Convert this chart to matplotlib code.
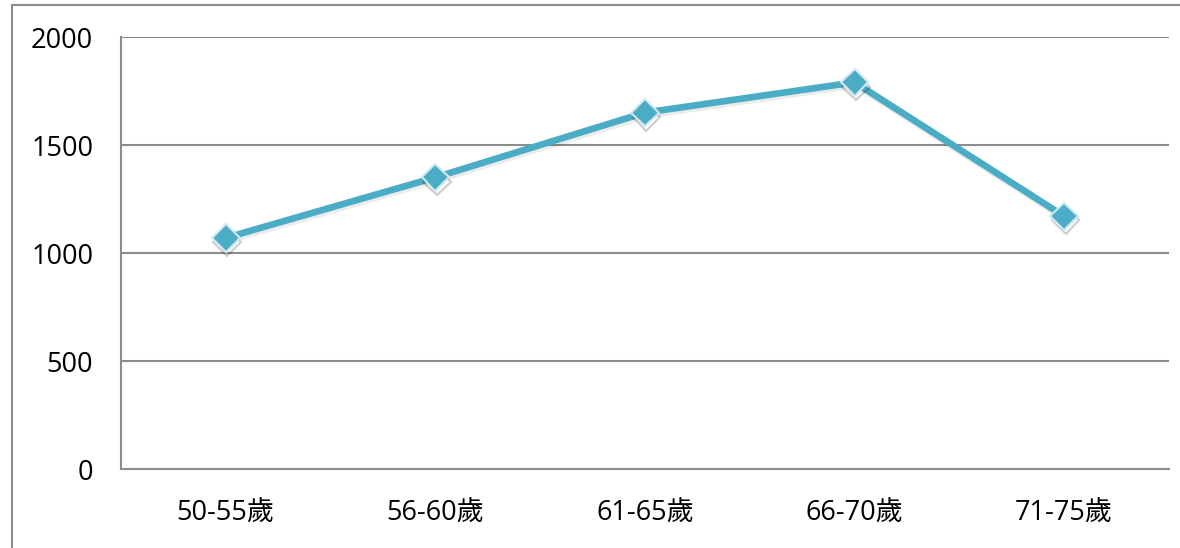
import matplotlib
matplotlib.use("Agg")
import matplotlib.pyplot as plt
from matplotlib.lines import Line2D
import matplotlib.patheffects as pe

plt.rcParams["font.family"] = ["Open Sans", "Noto Sans CJK TC", "DejaVu Sans"]

# 資料
age_groups = ["50-55歲", "56-60歲", "61-65歲", "66-70歲", "71-75歲"]
values = [1070, 1350, 1650, 1790, 1170]
y_ticks = [0, 500, 1000, 1500, 2000]

W, H = 1180, 548
fig = plt.figure(figsize=(W / 100, H / 100), dpi=100)
ax = fig.add_axes([121 / W, 1 - 469 / H, (1169 - 121) / W, (469 - 37) / H])

grid_c = "#8c8c8c"
x = list(range(len(age_groups)))
ax.plot(x, values, color="#4bacc6", lw=4.8, solid_capstyle="round", zorder=3,
        path_effects=[pe.SimpleLineShadow(offset=(1, -2), alpha=0.08, shadow_color="k"), pe.Normal()])
ax.plot(x, values, linestyle="none", marker="D", markersize=14, markerfacecolor="#4bacc6",
        markeredgecolor="#cfe9f1", markeredgewidth=1.5, zorder=4,
        path_effects=[pe.SimpleLineShadow(offset=(1, -3), alpha=0.2, shadow_color="k"), pe.Normal()])

ax.set_xlim(-0.5, len(age_groups) - 0.5)
ax.set_ylim(0, 2000)
ax.set_yticks(y_ticks)
ax.set_xticks(x)
ax.set_xticklabels(age_groups)
ax.tick_params(axis="y", length=0, pad=20, labelsize=19.5)
ax.tick_params(axis="x", length=0, pad=22, labelsize=19.5)
for t in y_ticks[1:]:
    ax.axhline(t, color=grid_c, lw=1.5, zorder=1)
for s in ["top", "right"]:
    ax.spines[s].set_visible(False)
for s in ["left", "bottom"]:
    ax.spines[s].set_color(grid_c)
    ax.spines[s].set_linewidth(1.5)

# 外框
fig.add_artist(Line2D([12 / W, 12 / W], [0, 1 - 5 / H], color=grid_c, lw=1.5, transform=fig.transFigure))
fig.add_artist(Line2D([12 / W, 1], [1 - 5 / H, 1 - 5 / H], color=grid_c, lw=1.5, transform=fig.transFigure))

fig.savefig("out.png", dpi=100)
